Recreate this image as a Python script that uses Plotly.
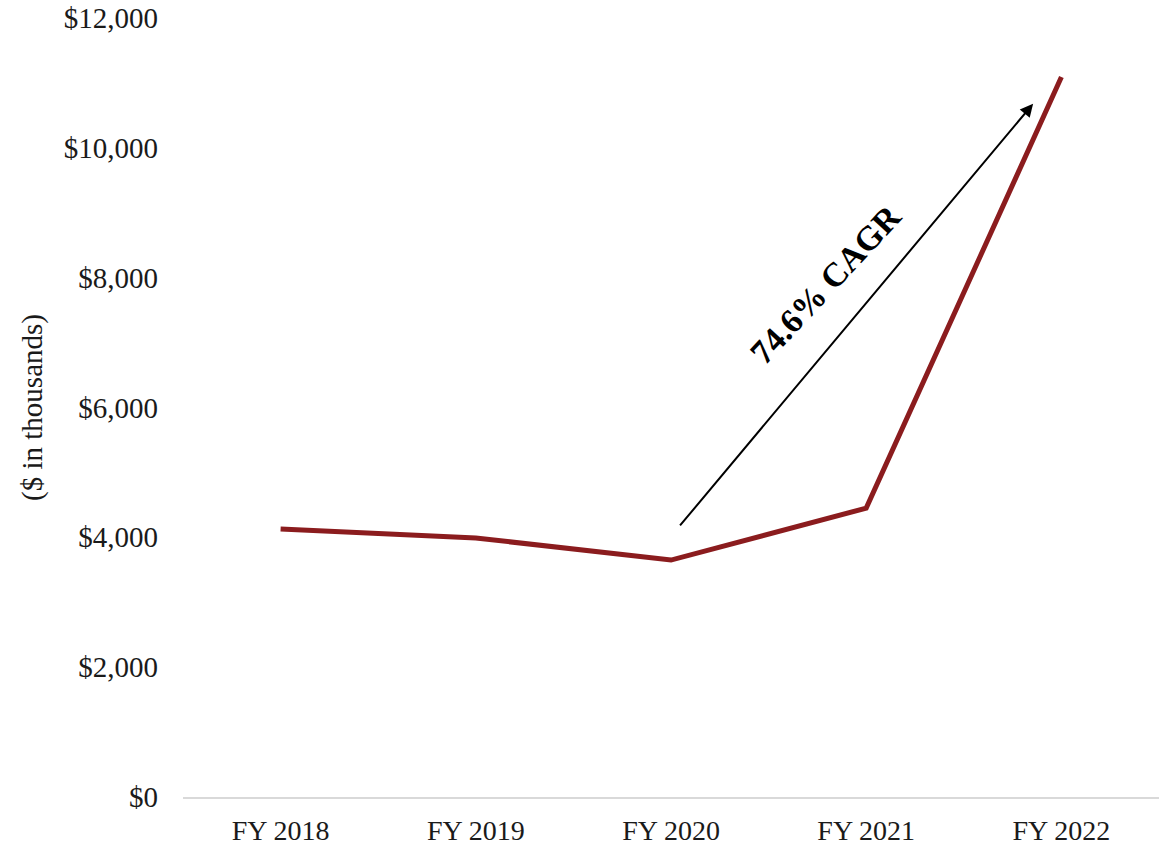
import plotly.graph_objects as go

# Revenue by fiscal year ($ in thousands)
years = ["FY 2018", "FY 2019", "FY 2020", "FY 2021", "FY 2022"]
revenue = [4130, 3990, 3650, 4450, 11090]

y_ticks = [0, 2000, 4000, 6000, 8000, 10000, 12000]
y_tick_text = ["$0", "$2,000", "$4,000", "$6,000", "$8,000", "$10,000", "$12,000"]

cagr_label = "74.6% CAGR"
# CAGR arrow endpoints (category index, value)
arrow_start = (2.04, 4160)
arrow_end = (3.855, 10680)

FONT = "Liberation Serif, Times New Roman, serif"
LINE_RED = "#8B1C1E"

fig = go.Figure()
fig.add_trace(go.Scatter(
    x=years, y=revenue, mode="lines",
    line=dict(color=LINE_RED, width=5),
    showlegend=False, hoverinfo="skip",
))

fig.add_annotation(
    x=arrow_end[0], y=arrow_end[1], xref="x", yref="y",
    ax=arrow_start[0], ay=arrow_start[1], axref="x", ayref="y",
    showarrow=True, arrowhead=2, arrowsize=1.3, arrowwidth=2, arrowcolor="black",
    text="",
)
fig.add_annotation(
    x=2.79, y=7900, xref="x", yref="y",
    text="<b>" + cagr_label + "</b>", showarrow=False,
    textangle=-47, font=dict(family=FONT, size=34, color="black"),
)

fig.update_layout(
    width=1160, height=848,
    margin=dict(l=183, r=1, t=18, b=51),
    paper_bgcolor="white", plot_bgcolor="white",
    font=dict(family=FONT, size=29, color="#1a1a1a"),
    xaxis=dict(
        type="category", range=[-0.5, 4.5], automargin=False,
        showgrid=False, zeroline=False,
        showline=True, linecolor="#d9d9d9", linewidth=2,
        ticks="", ticklabelstandoff=7,
        tickfont=dict(size=28),
    ),
    yaxis=dict(
        range=[0, 12000], tickvals=y_ticks, ticktext=y_tick_text,
        automargin=False,
        showgrid=False, zeroline=False, showline=False,
        ticks="", ticklabelstandoff=24,
        tickfont=dict(size=29),
        title=dict(text="($ in thousands)", font=dict(size=29), standoff=12),
    ),
)

fig.write_html("out.html")
